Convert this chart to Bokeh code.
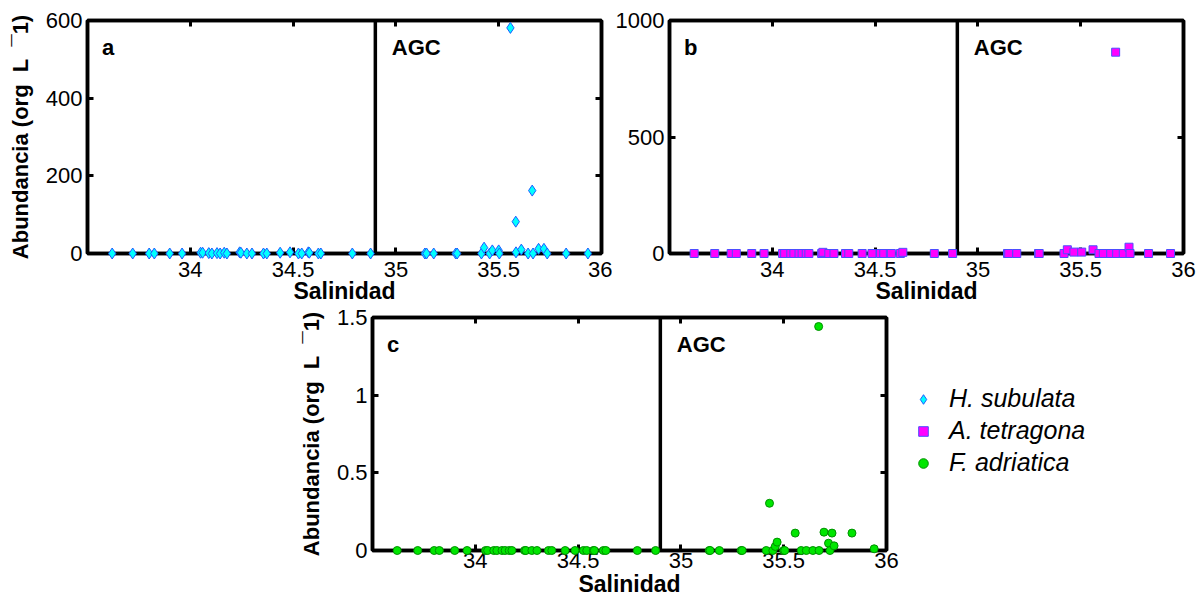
from bokeh.plotting import figure
from bokeh.models import Range1d, FixedTicker, LinearAxis, Span, Label, Legend, LegendItem, Spacer
from bokeh.layouts import row, column
from bokeh.embed import file_html
from bokeh.resources import INLINE

# ---------------- data ----------------
species = ["H. subulata", "A. tetragona", "F. adriatica"]
panel_letters = ["a", "b", "c"]
region_label = "AGC"
x_label = "Salinidad"
y_label = "Abundancia (org\u00a0 L\u00a0 \u00af1)"

x_ticks = [34, 34.5, 35, 35.5, 36]
x_tick_labels = ["34", "34.5", "35", "35.5", "36"]
ya_ticks = [0, 200, 400, 600]
ya_tick_labels = ["0", "200", "400", "600"]
yb_ticks = [0, 500, 1000]
yb_tick_labels = ["0", "500", "1000"]
yc_ticks = [0, 0.5, 1, 1.5]
yc_tick_labels = ["0", "0.5", "1", "1.5"]

agc_boundary = 34.9

# stations west of the boundary (shared by the three species)
sal_left = [33.62, 33.72, 33.80, 33.825, 33.90, 33.96, 34.05, 34.06, 34.09, 34.105,
            34.13, 34.145, 34.165, 34.178, 34.24, 34.246, 34.275, 34.30, 34.356, 34.372,
            34.437, 34.485, 34.526, 34.542, 34.574, 34.579, 34.623, 34.635, 34.788, 34.877]
hsub_left = [0, 0, 0, 0, 0, 0, 2, 2, 1, 0,
             1, 0, 2, 0, 3, 2, 0, 0, 0, 0,
             2, 3, 0, 0, 3, 2, 0, 0, 0, 0]
atet_left = [0, 0, 0, 0, 0, 0, 0, 0, 0, 0,
             0, 0, 0, 0, 0, 5, 0, 0, 0, 0,
             0, 0, 0, 0, 0, 0, 0, 5, 0, 0]
fadr_left = [0] * 30

# AGC stations
sal_h_agc = [35.141, 35.149, 35.184, 35.291, 35.298, 35.416, 35.429, 35.456, 35.469, 35.50,
             35.503, 35.557, 35.583, 35.584, 35.61, 35.643, 35.663, 35.667, 35.694, 35.72,
             35.736, 35.828, 35.934]
hsub_agc = [0, 0, 0, 0, 0, 0, 15, 0, 8, 8,
            0, 581, 82, 3, 10, 0, 162, 0, 12, 12,
            0, 0, 0]

sal_a_agc = [35.144, 35.15, 35.189, 35.295, 35.298, 35.419, 35.435, 35.467, 35.505, 35.56,
             35.589, 35.61, 35.646, 35.67, 35.675, 35.707, 35.735, 35.74, 35.83, 35.937]
atet_agc = [0, 0, 0, 0, 0, 0, 16, 6, 6, 16,
            0, 0, 0, 864, 0, 0, 27, 0, 0, 0]

sal_f_agc = [35.138, 35.142, 35.187, 35.293, 35.298, 35.415, 35.431, 35.447, 35.459, 35.468,
             35.50, 35.505, 35.556, 35.585, 35.61, 35.642, 35.67, 35.672, 35.696, 35.718,
             35.725, 35.735, 35.745, 35.832, 35.94]
fadr_agc = [0, 0, 0, 0, 0, 0, 0.304, 0, 0.026, 0.054,
            0, 0, 0.112, 0, 0, 0, 1.442, 0, 0.118, 0.047,
            0, 0.112, 0.03, 0.112, 0.011]

# ---------------- styling ----------------
FONT = "Liberation Sans"
FS = "22px"
FS_X = "23px"
FS_Y = "22px"
marker_styles = [
    dict(marker="diamond", size=11, fill_color="#00FFFF", line_color="#1E5AFF"),
    dict(marker="square", size=8, fill_color="#FF00FF", line_color="#4D4DFF"),
    dict(marker="circle", size=8, fill_color="#00E600", line_color="#009000"),
]


def style_axis(ax, ticks, labels, show):
    ax.ticker = FixedTicker(ticks=ticks)
    ax.minor_tick_line_color = None
    ax.major_tick_in = 6
    ax.major_tick_out = 0
    ax.major_tick_line_width = 3
    ax.major_tick_line_color = "black"
    ax.axis_line_width = 3.5
    ax.axis_line_color = "black"
    ax.major_label_text_font = FONT
    ax.major_label_text_color = "black"
    if show:
        ax.major_label_overrides = {t: l for t, l in zip(ticks, labels)}
        ax.major_label_text_font_size = FS
    else:
        ax.major_label_overrides = {t: "" for t in ticks}
        ax.major_label_text_font_size = "0px"
        ax.major_label_standoff = 0


def make_panel(width, height, bl, br, bt, bb, ymax, yticks, ylabels, show_ylabel,
               tick_standoff, label_standoff):
    p = figure(width=width, height=height, output_backend="svg", toolbar_location=None,
               x_range=Range1d(33.5, 36), y_range=Range1d(0, ymax),
               min_border_left=bl, min_border_right=br, min_border_top=bt, min_border_bottom=bb)
    p.xgrid.visible = False
    p.ygrid.visible = False
    p.outline_line_color = "black"
    p.outline_line_width = 3.5
    p.outline_line_alpha = 1
    p.background_fill_color = "white"
    p.border_fill_color = "white"

    style_axis(p.xaxis[0], x_ticks, x_tick_labels, True)
    p.xaxis[0].major_label_standoff = tick_standoff
    p.xaxis[0].axis_label = x_label
    p.xaxis[0].axis_label_text_font = FONT
    p.xaxis[0].axis_label_text_font_size = FS_X
    p.xaxis[0].axis_label_text_font_style = "bold"
    p.xaxis[0].axis_label_text_color = "black"
    p.xaxis[0].axis_label_standoff = label_standoff

    style_axis(p.yaxis[0], yticks, ylabels, True)
    p.yaxis[0].major_label_standoff = 5
    if show_ylabel:
        p.yaxis[0].axis_label = y_label
        p.yaxis[0].axis_label_text_font = FONT
        p.yaxis[0].axis_label_text_font_size = FS_Y
        p.yaxis[0].axis_label_text_font_style = "bold"
        p.yaxis[0].axis_label_text_color = "black"
        p.yaxis[0].axis_label_standoff = 10

    top = LinearAxis()
    style_axis(top, x_ticks, x_tick_labels, False)
    p.add_layout(top, "above")
    right = LinearAxis()
    style_axis(right, yticks, ylabels, False)
    p.add_layout(right, "right")

    p.add_layout(Span(location=agc_boundary, dimension="height", line_color="black", line_width=3.5))
    return p


def add_labels(p, letter, ymax):
    for txt, xpos in ((letter, 33.57), (region_label, 34.98)):
        p.add_layout(Label(x=xpos, y=0.884 * ymax, text=txt, text_font=FONT,
                           text_font_size=FS, text_font_style="bold", text_color="black",
                           text_baseline="middle", text_align="left"))


sal_h = sal_left + sal_h_agc
ab_h = hsub_left + hsub_agc
sal_a = sal_left + sal_a_agc
ab_a = atet_left + atet_agc
sal_f = sal_left + sal_f_agc
ab_f = fadr_left + fadr_agc

# panel a
pa = make_panel(612, 306, 87, 11, 20, 53, 600, ya_ticks, ya_tick_labels, True, 8, -2)
pa.scatter(sal_h, ab_h, line_width=1, level="overlay", **marker_styles[0])
add_labels(pa, panel_letters[0], 600)

# panel b
pb = make_panel(587, 306, 57, 16, 20, 53, 1000, yb_ticks, yb_tick_labels, False, 8, -2)
pb.scatter(sal_a, ab_a, line_width=1, level="overlay", **marker_styles[1])
add_labels(pb, panel_letters[1], 1000)

# panel c
pc = make_panel(612, 293, 84, 14, 11, 49, 1.5, yc_ticks, yc_tick_labels, True, 2, 0)
pc.scatter(sal_f, ab_f, line_width=1, level="overlay", **marker_styles[2])
add_labels(pc, panel_letters[2], 1.5)

# legend panel: the three series are drawn on ranges that keep them outside the
# (invisible) frame, so that only their legend symbols show
pl = figure(width=299, height=293, output_backend="svg", toolbar_location=None,
            x_range=Range1d(0, 1), y_range=Range1d(0, 1), x_axis_type=None, y_axis_type=None,
            min_border=0)
pl.xgrid.visible = False
pl.ygrid.visible = False
pl.outline_line_color = None
pl.background_fill_color = "white"
pl.border_fill_color = "white"
legend_renderers = [pl.scatter(xs, ys, line_width=1, **st)
                    for xs, ys, st in ((sal_h, ab_h, marker_styles[0]),
                                       (sal_a, ab_a, marker_styles[1]),
                                       (sal_f, ab_f, marker_styles[2]))]
items = [LegendItem(label=name, renderers=[r]) for name, r in zip(species, legend_renderers)]
leg = Legend(items=items, location=(11, 73), padding=0, margin=0, spacing=3,
             glyph_width=24, glyph_height=24, label_height=24, label_standoff=14,
             label_text_font=FONT, label_text_font_style="italic", label_text_font_size="25px",
             label_text_color="black", border_line_color=None, background_fill_alpha=0)
pl.add_layout(leg)

layout = column(row(pa, pb), row(Spacer(width=288, height=293), pc, pl))

open("out.html", "w").write(file_html(layout, INLINE))
